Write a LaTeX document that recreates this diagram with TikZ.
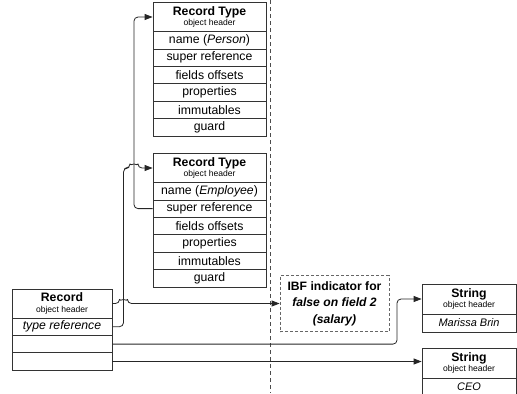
\documentclass[tikz,border=0pt]{standalone}
\usepackage{fontspec}
\setmainfont{Liberation Sans}
\usetikzlibrary{arrows.meta,calc}
\newcommand{\hdr}[1]{{\fontsize{12.3}{13}\selectfont\bfseries #1}\\[-1.5bp]{\fontsize{8.6}{10}\selectfont object header}}
\begin{document}
\begin{tikzpicture}[x=1bp,y=-1bp,
	>={Triangle[length=8bp,width=6bp]},
	box/.style={draw=black!80,line width=.8bp,inner sep=0pt},
	headbox/.style={box,minimum height=29bp,align=center},
	rowbox/.style={box,minimum height=17.4bp,font=\fontsize{12.3}{14}\selectfont},
	strrow/.style={box,minimum height=18bp,font=\fontsize{11}{13}\selectfont\itshape},
	link/.style={->,draw=black!85,line width=.8bp,rounded corners=4bp},
	sepline/.style={draw=black!70,line width=.8bp,dash pattern=on 4bp off 3bp}]
	\useasboundingbox (0,0) rectangle (517,393);
	\clip (0,0) rectangle (517,393);
	% separator
	\draw[sepline] (270,0) -- (270,393);
	% bus columns
	\coordinate (busA) at (123.5,0);
	\coordinate (busB) at (134,0);
	\coordinate (busC) at (397,0);
	% record type (Person)
	\node[headbox,minimum width=113bp] (rtA) at (209.5,17) {\hdr{Record Type}};
	\foreach \lbl [count=\i] in {{name (\textit{Person})},super reference,fields offsets,properties,immutables,guard}
	\node[rowbox,minimum width=113bp] (rtA\i) at (209.5,{31.5+17.4*\i-8.7}) {\lbl};
	% record type (Employee)
	\node[headbox,minimum width=113bp] (rtB) at (209.5,168) {\hdr{Record Type}};
	\foreach \lbl [count=\i] in {{name (\textit{Employee})},super reference,fields offsets,properties,immutables,guard}
	\node[rowbox,minimum width=113bp] (rtB\i) at (209.5,{182.5+17.4*\i-8.7}) {\lbl};
	% record
	\node[headbox,minimum width=100bp] (rec) at (62,303.5) {\hdr{Record}};
	\node[rowbox,minimum width=100bp] (rec1) at (62,326.7) {\textit{type reference}};
	\node[rowbox,minimum width=100bp] (rec2) at (62,344.1) {};
	\node[rowbox,minimum width=100bp] (rec3) at (62,361.5) {};
	% IBF indicator
	\node[draw=black!60,line width=.8bp,dash pattern=on 3bp off 2bp,minimum width=109bp,minimum height=56bp,
	align=center,font=\fontsize{12.2}{16.5}\selectfont\bfseries] (ibf) at (334.5,303.5)
	{IBF indicator for\\\textit{false on field 2}\\\textit{(salary)}};
	% strings
	\node[headbox,minimum width=94bp,minimum height=30bp] (strA) at (469,299) {\hdr{String}};
	\node[strrow,minimum width=94bp] (strA1) at (469,323) {Marissa Brin};
	\node[headbox,minimum width=94bp,minimum height=30bp] (strB) at (469,363) {\hdr{String}};
	\node[strrow,minimum width=94bp] (strB1) at (469,387) {CEO};
	% connectors
	\draw[link] (rtB2.west) -| (busB |- rtA.west) -- (rtA.west);
	\draw[link] (rec1.east) -| (busA |- rtB.west) -- ($(busB |- rtB.west)+(-4,0)$)
	arc[start angle=180,end angle=0,radius=4bp] -- (rtB.west);
	\draw[link] (rec.east) -- ($(busA |- rec.east)+(-4,0)$)
	arc[start angle=180,end angle=0,radius=4bp] -- (ibf.west |- rec.east);
	\draw[link] (rec2.east) -| (busC |- strA.west) -- (strA.west);
	\draw[link] (rec3.east) -- (rec3.east -| strB.west);
\end{tikzpicture}
\end{document}
